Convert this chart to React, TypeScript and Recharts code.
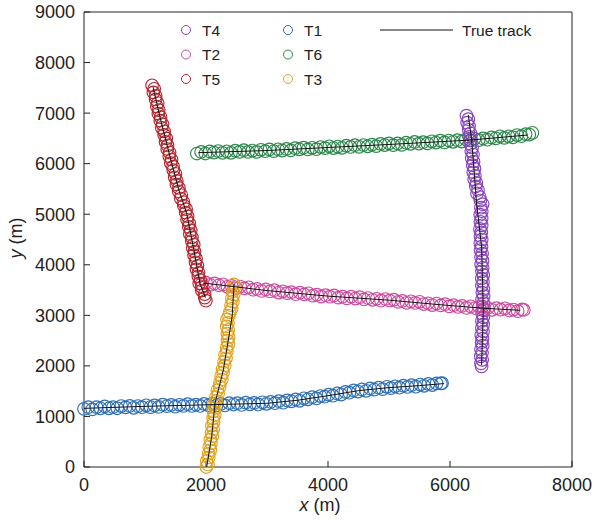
import React from 'react';
import { ScatterChart, Scatter, XAxis, YAxis, ReferenceLine } from 'recharts';

const FONT = "'Liberation Sans', Arial, Helvetica, sans-serif";

const xTicks = [0, 2000, 4000, 6000, 8000];
const yTicks = [0, 1000, 2000, 3000, 4000, 5000, 6000, 7000, 8000, 9000];

// Estimated target measurements (x, y) in metres
const t1: number[][] = [
  [0, 1150], [70, 1183], [135, 1140], [205, 1183], [270, 1161], [340, 1199], [410, 1161], [475, 1184],
  [545, 1162], [610, 1206], [680, 1179], [750, 1208], [815, 1171], [885, 1205], [950, 1183], [1020, 1221],
  [1090, 1185], [1155, 1217], [1225, 1187], [1290, 1233], [1360, 1205], [1430, 1229], [1495, 1193], [1565, 1231],
  [1630, 1207], [1700, 1243], [1770, 1207], [1835, 1233], [1905, 1207], [1970, 1247], [2040, 1221], [2110, 1253],
  [2175, 1217], [2245, 1247], [2310, 1217], [2380, 1261], [2450, 1236], [2515, 1261], [2585, 1228], [2650, 1272],
  [2720, 1240], [2790, 1268], [2855, 1238], [2925, 1280], [2990, 1250], [3060, 1287], [3130, 1262], [3195, 1301],
  [3265, 1272], [3330, 1316], [3400, 1300], [3470, 1336], [3535, 1310], [3605, 1359], [3670, 1339], [3740, 1381],
  [3810, 1356], [3875, 1404], [3945, 1390], [4010, 1432], [4080, 1410], [4150, 1454], [4215, 1433], [4285, 1485],
  [4350, 1470], [4420, 1514], [4490, 1492], [4555, 1533], [4625, 1507], [4690, 1553], [4760, 1531], [4830, 1568],
  [4895, 1541], [4965, 1586], [5030, 1560], [5100, 1596], [5170, 1568], [5235, 1609], [5305, 1584], [5370, 1618],
  [5440, 1589], [5510, 1631], [5575, 1606], [5645, 1643], [5710, 1621], [5780, 1654], [5850, 1653], [5870, 1660],
];

const t2: number[][] = [
  [1930, 3628], [2000, 3645], [2070, 3603], [2140, 3631], [2210, 3595], [2280, 3613], [2350, 3565], [2420, 3583],
  [2490, 3541], [2560, 3569], [2630, 3533], [2700, 3555], [2770, 3507], [2840, 3521], [2910, 3483], [2980, 3511],
  [3050, 3473], [3120, 3497], [3190, 3451], [3260, 3475], [3330, 3439], [3400, 3458], [3470, 3418], [3540, 3449],
  [3610, 3415], [3680, 3435], [3750, 3390], [3820, 3410], [3890, 3370], [3960, 3400], [4030, 3368], [4100, 3394],
  [4170, 3350], [4240, 3369], [4310, 3335], [4380, 3368], [4450, 3332], [4520, 3358], [4590, 3315], [4660, 3341],
  [4730, 3307], [4800, 3328], [4870, 3290], [4940, 3323], [5010, 3291], [5080, 3311], [5150, 3266], [5220, 3286],
  [5290, 3247], [5360, 3277], [5430, 3244], [5500, 3268], [5570, 3223], [5640, 3239], [5710, 3204], [5780, 3234],
  [5850, 3197], [5920, 3222], [5990, 3177], [6060, 3202], [6130, 3166], [6200, 3186], [6270, 3147], [6340, 3178],
  [6410, 3145], [6480, 3166], [6550, 3122], [6620, 3145], [6690, 3109], [6760, 3142], [6830, 3111], [6900, 3139],
  [6970, 3096], [7040, 3115], [7110, 3083], [7180, 3116], [7210, 3106],
];

const t3: number[][] = [
  [2005, 0], [2030, 50], [2012, 120], [2045, 190], [2042, 260], [2071, 330], [2054, 400], [2081, 470],
  [2071, 540], [2104, 610], [2090, 680], [2118, 750], [2096, 820], [2125, 890], [2118, 960], [2144, 1030],
  [2123, 1100], [2146, 1170], [2132, 1240], [2168, 1310], [2163, 1380], [2199, 1450], [2187, 1520], [2224, 1590],
  [2226, 1660], [2260, 1730], [2248, 1800], [2280, 1870], [2273, 1940], [2307, 2010], [2296, 2080], [2328, 2150],
  [2311, 2220], [2343, 2290], [2340, 2360], [2369, 2430], [2352, 2500], [2370, 2570], [2350, 2640], [2365, 2710],
  [2340, 2780], [2360, 2850], [2345, 2920], [2375, 2990], [2390, 3060], [2420, 3130], [2410, 3200], [2440, 3270],
  [2425, 3340], [2455, 3410], [2440, 3480], [2462, 3550], [2458, 3610],
];

const t4: number[][] = [
  [6270, 6950], [6300, 6880], [6281, 6810], [6312, 6740], [6306, 6670], [6334, 6600], [6315, 6530], [6344, 6460],
  [6332, 6390], [6362, 6320], [6349, 6250], [6377, 6180], [6356, 6110], [6386, 6040], [6373, 5970], [6401, 5900],
  [6382, 5830], [6408, 5760], [6397, 5690], [6432, 5620], [6424, 5550], [6458, 5480], [6443, 5410], [6488, 5340],
  [6498, 5270], [6535, 5200], [6506, 5130], [6521, 5060], [6496, 4990], [6519, 4920], [6498, 4850], [6519, 4780],
  [6491, 4710], [6513, 4640], [6500, 4570], [6520, 4500], [6496, 4430], [6517, 4360], [6500, 4290], [6526, 4220],
  [6509, 4150], [6534, 4080], [6510, 4010], [6535, 3940], [6524, 3870], [6546, 3800], [6521, 3730], [6541, 3660],
  [6523, 3590], [6549, 3520], [6530, 3450], [6552, 3380], [6525, 3310], [6548, 3240], [6535, 3170], [6555, 3100],
  [6528, 3030], [6545, 2960], [6523, 2890], [6544, 2820], [6522, 2750], [6542, 2680], [6512, 2610], [6533, 2540],
  [6518, 2470], [6536, 2400], [6508, 2330], [6525, 2260], [6504, 2190], [6528, 2120], [6508, 2050], [6518, 1990],
];

const t5: number[][] = [
  [1116, 7550], [1151, 7480], [1137, 7410], [1174, 7340], [1174, 7270], [1208, 7200], [1194, 7130], [1225, 7060],
  [1219, 6990], [1256, 6920], [1250, 6850], [1287, 6780], [1275, 6710], [1313, 6640], [1314, 6570], [1349, 6500],
  [1337, 6430], [1369, 6360], [1364, 6290], [1403, 6220], [1397, 6150], [1435, 6080], [1423, 6010], [1461, 5940],
  [1464, 5870], [1499, 5800], [1487, 5730], [1521, 5660], [1516, 5590], [1556, 5520], [1554, 5450], [1595, 5380],
  [1587, 5310], [1630, 5240], [1636, 5170], [1675, 5100], [1668, 5030], [1698, 4960], [1690, 4890], [1725, 4820],
  [1717, 4750], [1750, 4680], [1735, 4610], [1769, 4540], [1767, 4470], [1799, 4400], [1783, 4330], [1812, 4260],
  [1803, 4190], [1837, 4120], [1828, 4050], [1860, 3980], [1844, 3910], [1878, 3840], [1875, 3770], [1906, 3700],
  [1889, 3630], [1929, 3560], [1932, 3490], [1978, 3420], [1980, 3350], [1998, 3290],
];

const t6: number[][] = [
  [1850, 6201], [1920, 6231], [1990, 6201], [2060, 6242], [2130, 6219], [2200, 6249], [2270, 6214], [2340, 6245],
  [2410, 6215], [2480, 6256], [2550, 6233], [2620, 6267], [2690, 6232], [2760, 6259], [2830, 6233], [2900, 6274],
  [2970, 6247], [3040, 6282], [3110, 6249], [3180, 6285], [3250, 6260], [3320, 6291], [3390, 6263], [3460, 6306],
  [3530, 6284], [3600, 6316], [3670, 6282], [3740, 6314], [3810, 6287], [3880, 6329], [3950, 6307], [4020, 6343],
  [4090, 6309], [4160, 6338], [4230, 6314], [4300, 6356], [4370, 6330], [4440, 6366], [4510, 6333], [4580, 6369],
  [4650, 6344], [4720, 6375], [4790, 6347], [4860, 6390], [4930, 6368], [5000, 6400], [5070, 6367], [5140, 6399],
  [5210, 6372], [5280, 6414], [5350, 6393], [5420, 6429], [5490, 6396], [5560, 6424], [5630, 6401], [5700, 6443],
  [5770, 6418], [5840, 6454], [5910, 6421], [5980, 6458], [6050, 6433], [6120, 6465], [6190, 6438], [6260, 6480],
  [6330, 6459], [6400, 6495], [6470, 6464], [6540, 6499], [6610, 6475], [6680, 6520], [6750, 6501], [6820, 6541],
  [6890, 6510], [6960, 6542], [7030, 6521], [7100, 6566], [7170, 6544], [7240, 6583], [7300, 6575], [7350, 6610],
];

// True tracks
const trueT1: number[][] = [[0, 1160], [1000, 1200], [2000, 1230], [3000, 1260], [3500, 1320], [4000, 1410], [4500, 1510], [5000, 1570], [5500, 1610], [5900, 1650]];
const trueT2: number[][] = [[1950, 3640], [3000, 3490], [4000, 3380], [5000, 3300], [5836, 3210], [6546, 3140], [7150, 3100]];
const trueT3: number[][] = [[2011, 0], [2093, 600], [2148, 1260], [2284, 1918], [2393, 2710], [2430, 3000], [2460, 3620]];
const trueT4: number[][] = [[6300, 6962], [6355, 6467], [6436, 5215], [6518, 4357], [6546, 3105], [6518, 2017]];
const trueT5: number[][] = [[1131, 7522], [1250, 6900], [1410, 6137], [1550, 5500], [1683, 5018], [1800, 4300], [1902, 3627], [1990, 3350]];
const trueT6: number[][] = [[1874, 6217], [3000, 6260], [4000, 6320], [5000, 6380], [5836, 6434], [6328, 6467], [7268, 6566]];

const COLORS = {
  T1: '#2f6fb4',
  T2: '#cc4a9e',
  T3: '#e0a21f',
  T4: '#8846bb',
  T5: '#b4262f',
  T6: '#2c874a',
};

const toPts = (a: number[][]) => a.map(([x, y]) => ({ x, y }));

const ring = (color: string) => (props: any) => {
  if (props == null || props.cx == null || props.cy == null) return <g />;
  return <circle cx={props.cx} cy={props.cy} r={6.3} fill="none" stroke={color} strokeWidth={1.15} />;
};
const noShape = () => <g />;

const series: { name: keyof typeof COLORS; data: number[][] }[] = [
  { name: 'T6', data: t6 },
  { name: 'T4', data: t4 },
  { name: 'T2', data: t2 },
  { name: 'T1', data: t1 },
  { name: 'T3', data: t3 },
  { name: 'T5', data: t5 },
];
const trueTracks = [trueT1, trueT2, trueT3, trueT4, trueT5, trueT6];

const legendRows: { name: keyof typeof COLORS; col: number; row: number }[] = [
  { name: 'T4', col: 0, row: 0 },
  { name: 'T2', col: 0, row: 1 },
  { name: 'T5', col: 0, row: 2 },
  { name: 'T1', col: 1, row: 0 },
  { name: 'T6', col: 1, row: 1 },
  { name: 'T3', col: 1, row: 2 },
];

const W = 595;
const H = 522;

export default function App() {
  const tickStyle = { fill: '#222', fontSize: 18, fontFamily: FONT };
  return (
    <div style={{ position: 'relative', width: W, height: H }}>
      <style>{'html,body{margin:0;padding:0;overflow:hidden;background:#fff}'}</style>
      <ScatterChart width={W} height={H} margin={{ top: 12, right: 23, bottom: 10, left: 14 }}>
        <XAxis
          type="number"
          dataKey="x"
          domain={[0, 8000]}
          ticks={xTicks}
          interval={0}
          tickSize={-6}
          tickMargin={17}
          height={45}
          stroke="#222"
          tick={tickStyle}
        />
        <YAxis
          type="number"
          dataKey="y"
          domain={[0, 9000]}
          ticks={yTicks}
          interval={0}
          tickSize={-6}
          tickMargin={15}
          width={70}
          stroke="#222"
          tick={tickStyle}
        />
        <ReferenceLine x={8000} stroke="#222" strokeWidth={1} />
        <ReferenceLine y={9000} stroke="#222" strokeWidth={1} />
        {series.map((s) => (
          <Scatter
            key={s.name}
            name={s.name}
            data={toPts(s.data)}
            shape={ring(COLORS[s.name])}
            isAnimationActive={false}
          />
        ))}
        {trueTracks.map((t, i) => (
          <Scatter
            key={'true' + i}
            data={toPts(t)}
            line={{ stroke: '#111', strokeWidth: 1 }}
            shape={noShape}
            isAnimationActive={false}
          />
        ))}
      </ScatterChart>
      <svg
        width={W}
        height={H}
        style={{ position: 'absolute', left: 0, top: 0, pointerEvents: 'none' }}
      >
        {legendRows.map((r) => {
          const cx = r.col === 0 ? 186 : 288;
          const cy = 30 + r.row * 24.5;
          return (
            <g key={r.name}>
              <circle cx={cx} cy={cy} r={4.5} fill="none" stroke={COLORS[r.name]} strokeWidth={1} />
              <text x={cx + 16} y={cy} dy="0.36em" fontSize={15.5} fontFamily={FONT} fill="#222">
                {r.name}
              </text>
            </g>
          );
        })}
        <line x1={380} y1={30} x2={453} y2={30} stroke="#111" strokeWidth={1} />
        <text x={462} y={30} dy="0.36em" fontSize={15.5} fontFamily={FONT} fill="#222">
          True track
        </text>
        <text x={320} y={511} textAnchor="middle" fontSize={18} fontFamily={FONT} fill="#222">
          <tspan fontStyle="italic">x</tspan> (m)
        </text>
        <text
          x={22}
          y={238}
          textAnchor="middle"
          fontSize={18}
          fontFamily={FONT}
          fill="#222"
          transform="rotate(-90, 22, 238)"
        >
          <tspan fontStyle="italic">y</tspan> (m)
        </text>
      </svg>
    </div>
  );
}
